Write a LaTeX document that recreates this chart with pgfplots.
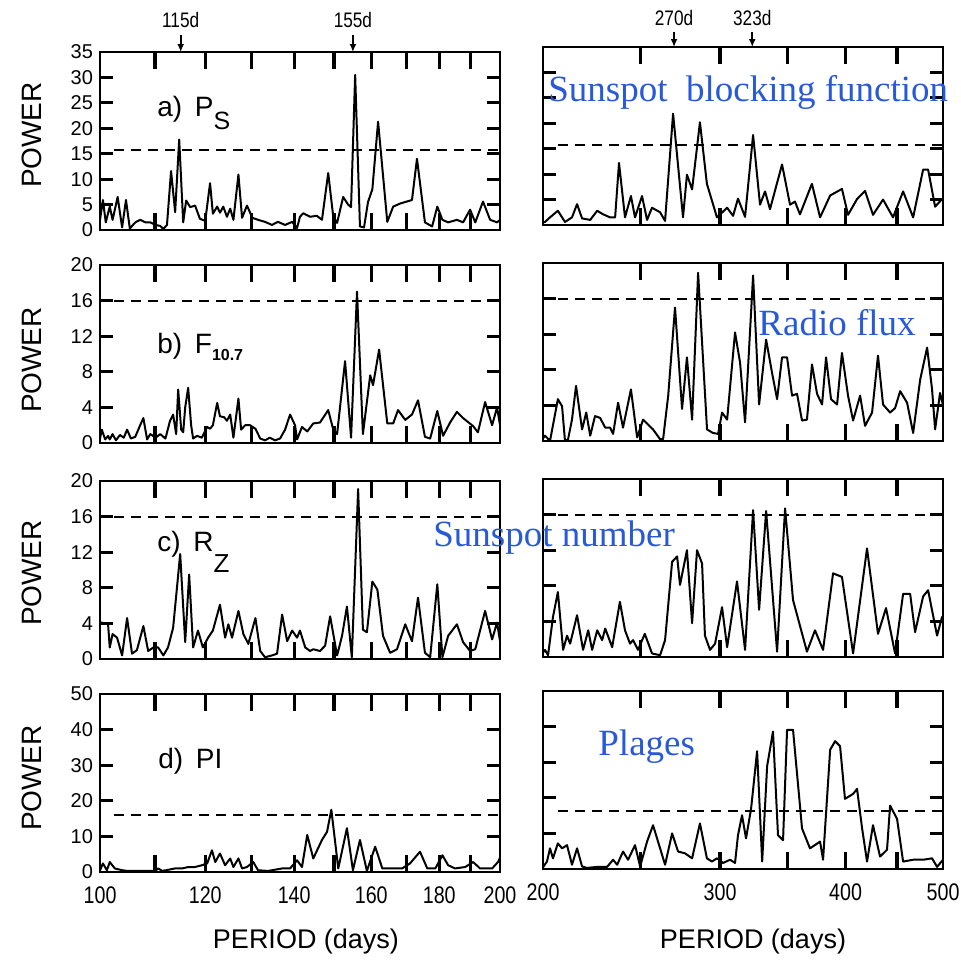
\documentclass[border=0pt]{standalone}
\usepackage{fontspec}
\setmainfont{Liberation Sans}
\newfontfamily\narrowfont[FakeStretch=0.82]{Liberation Sans}
\newfontfamily\bluefont{Liberation Serif}
\usepackage{pgfplots}
\pgfplotsset{compat=1.18}
\usetikzlibrary{arrows.meta}
\definecolor{annblue}{RGB}{40,90,215}
\pgfplotsset{
  every axis/.append style={scale only axis, width=200pt, height=89pt, anchor=north west,
    ymin=0, tick align=inside,
    major tick length=0pt, axis line style={line width=1.3pt},
    clip=false,
    yticklabel style={font=\fontsize{10}{10}\selectfont},
    xticklabel style={font=\narrowfont\fontsize{12}{12}\selectfont, yshift=-4pt}},
  mycurve/.style={black, line width=1pt, line join=round, mark=none},
  mydash/.style={black, line width=1pt, dash pattern=on 5pt off 3.5pt, mark=none},
}
\tikzset{tk/.style={black, line width=1.6pt}}
\begin{document}
\begin{tikzpicture}
\path[use as bounding box] (0,0) rectangle (480.5pt,-482pt);

% ---------- a) left
\begin{axis}[xmode=log, xmin=100, xmax=200, xtick={100,110,120,130,140,150,160,170,180,190,200}, xticklabels={},
  /pgf/number format/assume math mode=true,
  at={(50pt,-26pt)}, ymax=35, ytick={0,5,10,15,20,25,30,35}]
\addplot[mycurve] coordinates {(100.0,2.0)(100.5,5.9)(101.0,1.5)(101.7,4.6)(102.2,2.0)(103.1,6.5)(103.9,0.5)(104.6,5.9)(105.3,0.3)(106.3,1.5)(107.2,2.0)(108.2,1.5)(109.1,1.5)(110.1,1.0)(111.0,0.8)(111.6,0.2)(112.3,1.0)(113.1,11.6)(113.9,3.5)(114.7,17.8)(115.5,1.5)(116.1,5.8)(116.9,4.5)(117.9,4.8)(118.9,2.2)(120.0,1.8)(121.0,9.2)(121.6,3.2)(122.5,4.6)(123.1,3.4)(123.8,4.6)(124.6,2.6)(125.3,4.2)(126.0,2.0)(127.1,10.9)(127.9,2.4)(129.0,4.8)(130.2,2.4)(131.5,2.0)(133.1,1.6)(134.7,1.0)(136.1,1.6)(137.8,1.0)(139.5,1.6)(140.7,0.4)(141.4,2.6)(142.2,3.3)(143.9,2.6)(145.6,2.8)(146.9,2.0)(148.5,11.2)(149.8,2.6)(150.8,1.4)(152.4,6.5)(153.7,5.0)(154.5,4.5)(155.6,30.5)(156.9,0.7)(158.0,0.5)(159.1,5.5)(160.3,8.0)(161.9,21.3)(164.5,1.6)(166.2,4.6)(168.2,5.2)(171.7,5.9)(173.2,14.0)(175.6,1.5)(177.8,0.7)(179.4,4.6)(181.0,2.0)(182.8,1.5)(185.6,2.0)(187.6,1.5)(189.9,4.0)(191.6,1.5)(194.2,5.6)(196.6,2.0)(199.0,1.5)(200.0,2.0)};
\addplot[mydash] coordinates {(102.5,15.7)(200,15.7)};
\draw[line width=1pt, -{Latex[length=4pt,width=3.5pt]}] ([yshift=8.5pt]axis cs:115,35) -- (axis cs:115,35);
\draw[line width=1pt, -{Latex[length=4pt,width=3.5pt]}] ([yshift=8.5pt]axis cs:155,35) -- (axis cs:155,35);
\node[font=\narrowfont\fontsize{10.5}{11}\selectfont, anchor=base] at ([yshift=12.5pt]axis cs:115,35) {115d};
\node[font=\narrowfont\fontsize{10.5}{11}\selectfont, anchor=base] at ([yshift=12.5pt]axis cs:155,35) {155d};
\end{axis}

% ---------- a) right
\begin{axis}[xmode=log, xmin=200, xmax=500, xtick={200,250,300,350,400,450,500}, xticklabels={}, yticklabels={},
  at={(271.5pt,-23.5pt)}, ymax=35, ytick={0,5,10,15,20,25,30,35}]
\addplot[mycurve] coordinates {(200.0,0.5)(200.9,0.6)(203.2,1.5)(206.9,2.8)(210.3,0.6)(213.7,1.5)(216.2,4.1)(218.7,1.3)(222.8,1.0)(226.4,2.8)(229.5,2.1)(233.2,1.5)(235.9,1.5)(238.0,12.2)(241.3,1.5)(244.6,5.7)(246.9,1.5)(250.9,5.7)(253.8,1.0)(256.7,3.4)(261.5,2.5)(264.5,0.8)(269.4,21.9)(275.6,1.5)(278.1,9.9)(281.4,7.0)(286.5,20.2)(291.1,8.1)(297.9,1.5)(304.9,3.4)(309.1,1.8)(312.6,5.2)(317.7,1.6)(323.6,17.7)(328.8,4.0)(332.6,6.6)(336.4,3.1)(345.8,11.9)(352.2,4.0)(356.2,4.6)(360.3,2.1)(370.3,8.1)(377.3,1.5)(386.1,5.8)(396.7,7.1)(402.2,2.0)(410.6,5.1)(418.2,6.7)(425.9,2.0)(435.8,5.0)(445.9,1.5)(456.3,6.6)(466.9,1.5)(477.7,10.9)(483.2,10.9)(491.0,3.6)(498.9,5.1)};
\addplot[mydash] coordinates {(207,15.7)(500,15.7)};
\draw[line width=1pt, -{Latex[length=4pt,width=3.5pt]}] ([yshift=7.5pt]axis cs:270,35) -- (axis cs:270,35);
\draw[line width=1pt, -{Latex[length=4pt,width=3.5pt]}] ([yshift=7.5pt]axis cs:323,35) -- (axis cs:323,35);
\node[font=\narrowfont\fontsize{10.5}{11}\selectfont, anchor=base] at ([yshift=11pt]axis cs:270,35) {270d};
\node[font=\narrowfont\fontsize{10.5}{11}\selectfont, anchor=base] at ([yshift=11pt]axis cs:323,35) {323d};
\end{axis}

% ---------- b) left
\begin{axis}[xmode=log, xmin=100, xmax=200, xtick={100,110,120,130,140,150,160,170,180,190,200}, xticklabels={},
  /pgf/number format/assume math mode=true,
  at={(50pt,-132.5pt)}, ymax=20, ytick={0,4,8,12,16,20}]
\addplot[mycurve] coordinates {(100.0,0.5)(100.3,1.5)(100.9,0.4)(101.4,0.8)(101.7,0.4)(102.2,1.0)(102.8,0.3)(103.5,0.9)(104.2,0.6)(104.8,1.5)(105.5,0.5)(106.3,0.7)(107.2,2.0)(107.8,2.8)(108.5,0.4)(109.1,1.0)(110.1,0.6)(111.0,1.0)(112.0,0.5)(112.9,2.5)(113.5,3.2)(114.1,1.0)(114.5,6.0)(115.1,1.5)(115.5,1.2)(115.9,4.0)(116.5,6.2)(117.1,2.0)(117.5,0.5)(118.3,0.8)(119.3,0.6)(120.4,1.8)(121.0,1.6)(121.6,2.0)(122.5,4.5)(123.1,3.0)(124.0,2.9)(124.6,2.5)(125.3,3.2)(126.0,0.6)(127.1,5.0)(127.7,1.5)(128.6,2.0)(129.7,2.0)(130.9,1.6)(132.0,0.5)(133.1,0.3)(134.2,0.6)(135.4,0.3)(136.6,0.5)(137.8,1.5)(139.0,3.2)(140.2,2.0)(140.7,0.4)(141.9,1.8)(143.2,1.3)(144.7,2.2)(146.4,2.3)(148.5,3.7)(149.8,1.5)(150.8,1.0)(152.9,9.2)(154.5,0.6)(156.1,17.0)(157.7,1.0)(159.7,7.6)(160.5,6.5)(162.2,10.5)(164.5,2.2)(166.2,2.2)(167.6,3.7)(169.7,2.6)(171.7,3.2)(173.5,4.8)(175.6,0.7)(177.2,0.5)(179.4,3.6)(181.2,0.8)(183.4,2.3)(185.6,3.5)(187.6,2.8)(190.9,1.9)(192.5,1.2)(194.9,4.6)(197.3,2.0)(199.0,4.0)(200.0,2.0)};
\addplot[mydash] coordinates {(102.5,16)(200,16)};
\end{axis}

% ---------- b) right
\begin{axis}[xmode=log, xmin=200, xmax=500, xtick={200,250,300,350,400,450,500}, xticklabels={}, yticklabels={},
  at={(271.5pt,-131.5pt)}, ymax=20, ytick={0,4,8,12,16,20}]
\addplot[mycurve] coordinates {(200.0,0.3)(200.9,0.6)(203.2,0.0)(206.9,4.7)(208.9,3.9)(210.3,0.0)(211.8,0.2)(213.7,2.4)(215.7,6.2)(218.7,1.3)(220.8,3.2)(222.8,0.6)(225.3,2.8)(227.9,2.6)(230.6,1.5)(233.2,1.5)(234.8,0.8)(237.5,4.3)(240.2,1.5)(244.6,5.8)(248.1,0.4)(251.5,2.4)(257.3,1.3)(261.5,0.2)(263.3,0.2)(266.4,5.1)(270.6,15.0)(275.0,3.6)(278.1,9.4)(281.4,2.4)(285.3,18.9)(291.2,1.3)(295.2,0.9)(298.7,0.8)(301.4,3.2)(304.9,2.4)(310.5,12.2)(314.1,8.8)(317.7,2.1)(323.6,18.6)(328.1,4.1)(333.4,11.4)(337.9,7.7)(341.9,4.7)(345.8,9.4)(349.8,9.4)(353.8,5.1)(357.9,5.3)(362.0,2.3)(366.1,2.4)(370.4,8.6)(374.7,5.3)(379.0,4.1)(382.5,9.4)(386.9,4.7)(392.3,4.1)(396.7,9.9)(402.2,5.1)(406.9,2.3)(413.5,5.1)(418.2,1.7)(425.0,3.2)(430.8,9.6)(435.8,4.1)(442.9,3.2)(448.0,3.7)(453.2,5.6)(460.5,4.3)(466.9,0.9)(474.5,6.9)(482.1,10.5)(487.6,5.8)(491.0,1.3)(496.6,5.4)(500.0,4.0)};
\addplot[mydash] coordinates {(207,16)(500,16)};
\end{axis}

% ---------- c) left
\begin{axis}[xmode=log, xmin=100, xmax=200, xtick={100,110,120,130,140,150,160,170,180,190,200}, xticklabels={},
  /pgf/number format/assume math mode=true,
  at={(50pt,-240.5pt)}, ymax=20, ytick={0,4,8,12,16,20}]
\addplot[mycurve] coordinates {(100.0,4.0)(100.3,4.1)(101.4,3.9)(101.7,1.3)(102.2,2.8)(103.0,2.4)(103.9,0.4)(104.8,4.6)(105.7,0.6)(106.6,1.0)(107.8,3.7)(108.7,0.9)(109.7,1.3)(110.6,1.3)(111.6,0.4)(112.5,1.3)(113.5,3.5)(114.9,11.8)(115.9,1.9)(116.7,9.5)(117.5,1.3)(118.5,3.2)(119.5,1.3)(120.6,2.4)(121.6,3.2)(123.1,6.1)(124.2,2.4)(124.9,3.9)(125.7,2.4)(127.1,5.4)(128.2,2.8)(129.3,1.7)(130.9,4.6)(132.0,0.9)(133.1,0.2)(134.7,0.4)(135.9,0.6)(137.1,5.0)(138.3,2.0)(139.5,3.2)(140.7,2.4)(141.4,3.2)(142.7,1.3)(143.9,0.9)(144.7,1.1)(146.4,0.9)(147.7,1.5)(149.0,4.8)(150.8,0.4)(152.1,2.6)(153.4,5.9)(154.7,0.2)(156.4,19.1)(157.7,3.3)(158.8,3.0)(160.3,8.7)(161.7,7.8)(163.3,2.6)(165.3,0.7)(167.3,1.1)(169.7,3.9)(171.7,2.0)(173.5,6.9)(175.6,0.7)(177.2,0.2)(179.4,8.4)(181.0,0.2)(182.8,2.6)(185.6,3.9)(187.6,1.9)(189.9,0.9)(191.6,1.1)(194.9,5.4)(197.3,2.2)(199.0,4.1)(200.0,2.0)};
\addplot[mydash] coordinates {(102.5,16)(200,16)};
\end{axis}

% ---------- c) right
\begin{axis}[xmode=log, xmin=200, xmax=500, xtick={200,250,300,350,400,450,500}, xticklabels={}, yticklabels={},
  at={(271.5pt,-239.5pt)}, ymax=20, ytick={0,4,8,12,16,20}]
\addplot[mycurve] coordinates {(200.0,0.5)(200.9,0.8)(202.3,0.2)(204.6,4.5)(206.9,7.3)(209.4,0.8)(211.3,2.4)(212.8,1.5)(216.2,4.7)(219.2,0.8)(221.8,3.0)(223.8,0.8)(226.4,3.0)(229.0,1.9)(230.6,3.2)(234.3,1.1)(238.5,6.2)(241.3,3.0)(244.1,1.5)(245.8,1.9)(248.6,0.8)(252.5,2.6)(256.7,0.4)(261.5,0.2)(264.5,1.9)(268.8,10.7)(271.9,11.3)(273.7,8.1)(278.1,12.0)(281.4,3.8)(284.6,12.0)(287.9,10.5)(289.8,2.4)(293.2,0.8)(296.6,1.5)(301.4,5.6)(304.9,1.1)(311.9,8.5)(317.7,0.8)(323.6,16.5)(328.1,5.3)(333.4,16.4)(341.9,0.6)(348.2,16.7)(354.6,6.4)(366.1,0.6)(372.9,3.0)(379.9,0.8)(388.7,9.4)(396.7,9.0)(406.9,0.4)(420.1,12.2)(430.8,2.6)(438.8,5.5)(448.0,0.4)(456.3,7.1)(463.7,7.1)(469.0,2.8)(477.7,6.8)(483.2,7.5)(493.2,2.4)(498.9,4.5)(500.0,4.0)};
\addplot[mydash] coordinates {(207,16)(500,16)};
\end{axis}

% ---------- d) left
\begin{axis}[xmode=log, xmin=100, xmax=200, xtick={100,110,120,130,140,150,160,170,180,190,200},
  xticklabels={100,,120,,140,,160,,180,,200},
  /pgf/number format/assume math mode=true,
  at={(50pt,-347pt)}, ymax=50, ytick={0,10,20,30,40,50}]
\addplot[mycurve] coordinates {(100.0,0.5)(100.5,2.4)(101.2,0.5)(101.7,2.8)(102.6,1.0)(103.9,0.5)(104.9,0.3)(107.6,0.3)(110.1,0.3)(110.6,1.0)(111.4,0.3)(113.9,1.0)(115.3,1.0)(116.5,1.4)(117.9,1.4)(119.3,1.9)(120.4,2.4)(121.4,6.1)(122.1,2.8)(123.1,5.2)(124.2,1.9)(125.3,3.8)(126.0,1.4)(127.1,3.8)(127.9,1.0)(129.0,1.4)(130.4,2.8)(131.5,0.5)(133.8,0.3)(137.1,1.0)(139.0,1.0)(140.7,3.3)(141.9,1.4)(143.2,10.4)(144.7,3.8)(146.9,9.0)(148.2,11.3)(149.3,17.5)(151.1,1.0)(153.4,12.3)(155.0,0.5)(156.9,9.0)(158.8,0.3)(161.1,7.1)(163.1,1.0)(164.8,1.0)(168.8,1.0)(171.1,2.4)(174.1,5.7)(176.3,1.0)(178.8,1.0)(181.0,4.7)(182.8,1.9)(185.0,1.0)(188.3,1.4)(190.9,2.8)(193.2,1.0)(197.3,1.0)(199.3,2.8)(200.0,4.0)};
\addplot[mydash] coordinates {(102.5,16)(200,16)};
\end{axis}

% ---------- d) right
\begin{axis}[xmode=log, xmin=200, xmax=500, xtick={200,250,300,350,400,450,500},
  xticklabels={200,,300,,400,,500}, yticklabels={},
  at={(271.5pt,-345.5pt)}, ymax=50, ytick={0,10,20,30,40,50}]
\addplot[mycurve] coordinates {(200.0,0.5)(201.8,2.1)(203.2,5.8)(204.6,3.0)(206.9,7.2)(208.9,5.8)(211.3,6.7)(213.7,1.2)(216.2,5.8)(218.7,0.7)(221.2,0.3)(226.4,0.6)(231.6,0.6)(234.8,2.6)(237.0,1.2)(240.2,4.9)(243.0,2.6)(246.9,6.7)(249.8,0.7)(253.8,7.7)(257.3,12.3)(261.5,5.8)(264.5,1.2)(268.8,10.0)(272.5,4.9)(276.9,4.4)(281.4,3.0)(286.5,12.8)(291.1,3.0)(294.5,2.1)(297.9,3.0)(302.1,1.7)(307.0,2.6)(310.5,1.7)(312.6,9.5)(315.5,15.1)(318.4,8.6)(322.1,16.9)(326.6,33.1)(330.4,2.1)(334.2,28.9)(338.7,38.6)(342.6,9.5)(346.6,8.1)(349.8,39.1)(354.6,39.1)(362.0,11.4)(368.7,5.8)(377.3,7.7)(379.9,2.6)(386.1,33.5)(390.5,35.9)(395.0,34.5)(399.5,19.7)(406.9,21.1)(410.6,22.5)(415.4,11.4)(420.1,2.1)(425.9,12.3)(432.8,3.5)(439.8,5.4)(442.9,17.8)(450.0,14.1)(456.3,2.1)(466.9,2.6)(477.7,2.6)(487.6,3.0)(493.2,0.6)(500.0,2.6)};
\addplot[mydash] coordinates {(207,16.3)(500,16.3)};
\end{axis}

% ---------- frame ticks (inward), left column
\foreach \tp/\ymx/\ys in {-26/35/5, -132.5/20/4, -240.5/20/4, -347/50/10} {
  \foreach \t in {110,120,130,140,150,160,170,180,190} {
    \pgfmathsetmacro\xx{50+200*ln(\t/100)/ln(2)}
    \draw[tk] (\xx pt,\tp pt) -- (\xx pt,\tp pt-8.5pt);
    \draw[tk] (\xx pt,\tp pt-89pt) -- (\xx pt,\tp pt-80.5pt);
  }
  \foreach \k in {1,...,7} {
    \pgfmathsetmacro\vv{\k*\ys}
    \pgfmathparse{\vv<\ymx-0.01 ? 1 : 0}
    \ifnum\pgfmathresult=1
      \pgfmathsetmacro\yy{\tp-89+89*\vv/\ymx}
      \draw[tk] (50pt,\yy pt) -- (56.5pt,\yy pt);
      \draw[tk] (250pt,\yy pt) -- (243.5pt,\yy pt);
    \fi
  }
}
% ---------- frame ticks (inward), right column
\foreach \tp/\ymx/\ys in {-23.5/35/5, -131.5/20/4, -239.5/20/4, -345.5/50/10} {
  \foreach \t in {250,300,350,400,450} {
    \pgfmathsetmacro\xx{271.5+200*ln(\t/200)/ln(2.5)}
    \draw[tk] (\xx pt,\tp pt) -- (\xx pt,\tp pt-8.5pt);
    \draw[tk] (\xx pt,\tp pt-89pt) -- (\xx pt,\tp pt-80.5pt);
  }
  \foreach \k in {1,...,7} {
    \pgfmathsetmacro\vv{\k*\ys}
    \pgfmathparse{\vv<\ymx-0.01 ? 1 : 0}
    \ifnum\pgfmathresult=1
      \pgfmathsetmacro\yy{\tp-89+89*\vv/\ymx}
      \draw[tk] (271.5pt,\yy pt) -- (278pt,\yy pt);
      \draw[tk] (471.5pt,\yy pt) -- (465pt,\yy pt);
    \fi
  }
}

% ---------- y labels, x labels
\foreach \yy in {-67.5,-180,-286.5,-389}
  \node[rotate=90, font=\fontsize{14}{14}\selectfont] at (16pt,\yy pt) {POWER};
\node[font=\fontsize{13.5}{14}\selectfont] at (153pt,-471pt) {PERIOD (days)};
\node[font=\fontsize{13.5}{14}\selectfont] at (376.5pt,-471pt) {PERIOD (days)};

% ---------- panel labels
\node[anchor=base west, inner sep=0pt, font=\fontsize{14}{14}\selectfont] at (78.5pt,-58.3pt) {a)\hspace{0.45em}P\raisebox{-6.5pt}{\fontsize{12.5}{12}\selectfont S}};
\node[anchor=base west, inner sep=0pt, font=\fontsize{14}{14}\selectfont] at (78.5pt,-176.7pt) {b)\hspace{0.45em}F\raisebox{-3.3pt}{\fontsize{8}{8}\selectfont\bfseries 10.7}};
\node[anchor=base west, inner sep=0pt, font=\fontsize{14}{14}\selectfont] at (78.5pt,-275.8pt) {c)\hspace{0.45em}R\raisebox{-10.5pt}{\fontsize{13}{13}\selectfont Z}};
\node[anchor=base west, inner sep=0pt, font=\fontsize{14}{14}\selectfont] at (79pt,-384.2pt) {d)\hspace{0.45em}PI};

% ---------- blue annotations
\node[anchor=west, inner sep=0pt, text=annblue, font=\bluefont\fontsize{18.5}{19}\selectfont] at (274pt,-46pt) {Sunspot~ blocking function};
\node[anchor=west, inner sep=0pt, text=annblue, font=\bluefont\fontsize{18.5}{19}\selectfont] at (379pt,-161.5pt) {Radio flux};
\node[anchor=west, inner sep=0pt, text=annblue, font=\bluefont\fontsize{18.5}{19}\selectfont] at (216.5pt,-269pt) {Sunspot number};
\node[anchor=west, inner sep=0pt, text=annblue, font=\bluefont\fontsize{18.5}{19}\selectfont] at (299pt,-373.5pt) {Plages};
\end{tikzpicture}
\end{document}
